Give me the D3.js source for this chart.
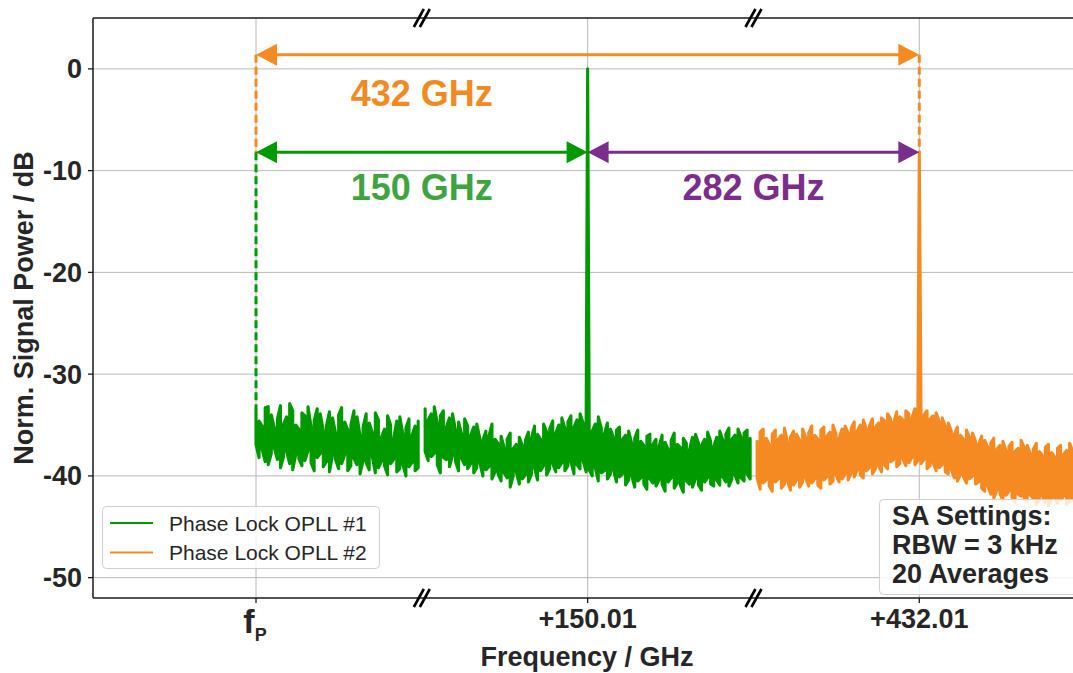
<!DOCTYPE html>
<html>
<head>
<meta charset="utf-8">
<script src="https://cdn.jsdelivr.net/npm/d3@7"></script>
<style>
  html, body { margin: 0; padding: 0; background: #fff; }
  svg { display: block; font-family: "Liberation Sans", Arial, sans-serif; }
</style>
</head>
<body>
<svg id="chart" width="1073" height="673"></svg>
<script>
// ---- data -------------------------------------------------------------
// x is expressed in axis units: 0 = f_P, 1 = +150.01 GHz, 2 = +432.01 GHz (broken axis)
const xTickPos = [0, 1, 2];
const xTickLabels = ["f", "+150.01", "+432.01"];
const yTicks = [0, -10, -20, -30, -40, -50];
const seriesNames = ["Phase Lock OPLL #1", "Phase Lock OPLL #2"];
const seriesColors = ["#009a00", "#f58a22"];

// Spectrum traces are stored as per-bin max / min (peak-detector style)

// noise floor around f_P (OPLL #1)
const green1Range = [0, 0.489];
const green1Hi = [-33.5,-34.6,-35.1,-33.3,-33.2,-34.0,-35.3,-34.4,-33.1,-34.9,-34.2,-32.9,-33.6,-35.0,-35.4,-33.8,-34.1,-33.2,-35.2,-34.6,
  -33.4,-33.9,-35.6,-35.1,-33.7,-34.3,-35.8,-34.0,-33.3,-34.7,-35.5,-35.0,-33.6,-34.2,-36.0,-35.2,-33.9,-34.8,-35.7,-33.8,
  -34.5,-36.2,-35.4,-34.1,-35.0,-36.3,-34.6,-34.2,-35.9,-35.3,-34.4,-36.0,-35.1,-34.6];
const green1Lo = [-36.9,-38.2,-37.4,-38.6,-38.9,-37.8,-37.3,-38.4,-39.2,-38.1,-37.6,-38.8,-39.4,-37.9,-38.3,-39.0,-38.5,-37.5,-38.7,-39.5,
  -38.2,-37.8,-39.1,-38.6,-39.6,-38.0,-38.4,-39.3,-38.8,-37.9,-39.5,-39.0,-38.3,-38.9,-39.8,-38.5,-38.7,-39.4,-38.1,-39.7,
  -39.2,-38.6,-39.0,-39.9,-38.8,-38.4,-39.6,-39.3,-38.9,-40.0,-39.1,-38.7,-39.5,-39.2];

// noise floor around +150.01 GHz (OPLL #1)
const green2Range = [0.51, 1.49];
const green2Hi = [-33.4,-34.5,-33.9,-33.2,-34.8,-34.1,-33.6,
  -35.2,-34.3,-33.9,-35.5,-34.7,-35.9,-34.4,-35.1,
  -36.0,-35.2,-34.9,-36.3,-36.5,-35.6,-36.1,-34.9,-36.4,-36.8,
  -36.1,-37.2,-36.4,-35.8,-37.3,-36.9,-36.2,-37.0,-36.5,-35.7,
  -36.3,-35.1,-35.9,-36.4,-34.9,-35.7,-35.4,-34.6,-35.8,-35.0,
  -34.3,-35.3,-34.7,-34.1,-35.2,-34.5,-33.9,-34.8,-35.0,
  -34.4,-35.6,-34.9,-34.2,-35.3,-35.9,-34.8,-35.4,-36.2,-35.5,
  -35.2,-36.4,-36.0,-35.6,-36.8,-36.3,-35.5,-36.6,-37.0,-36.1,-35.9,-36.9,
  -36.4,-37.1,-36.0,-36.7,-37.4,-36.5,-35.8,-36.9,-37.2,-36.3,-36.8,-37.5,-36.2,-35.9,-36.8,-37.0,-36.4,-35.7,-36.6,-37.1,
  -36.2,-35.6,-36.5,-35.9,-35.3,-36.4,-36.0,-35.4,-36.2,-35.8,-35.5,-36.3];
const green2Lo = [-37.6,-38.5,-38.1,-37.8,-38.9,-39.7,-38.2,
  -38.4,-39.1,-38.0,-38.6,-39.5,-38.3,-38.9,-39.3,
  -38.8,-39.7,-39.2,-38.7,-40.0,-39.4,-39.1,-40.3,-39.6,-39.8,
  -40.5,-39.7,-40.2,-41.1,-40.0,-39.6,-40.8,-40.3,-39.9,-40.6,
  -39.8,-39.2,-40.4,-39.5,-39.0,-39.9,-39.3,-38.8,-39.6,-39.2,
  -38.7,-39.5,-39.0,-38.6,-39.8,-38.9,-39.3,-38.5,-39.6,
  -39.4,-40.0,-39.2,-40.5,-39.7,-39.5,-40.3,-39.8,-39.4,-40.6,
  -40.1,-39.8,-40.9,-40.4,-40.0,-41.1,-40.5,-40.2,-40.8,-41.3,-40.3,-40.7,
  -41.0,-40.4,-40.8,-41.5,-40.6,-40.2,-41.2,-40.7,-40.9,-41.6,-40.5,-40.8,-41.1,-40.3,-40.9,-41.4,-40.6,-40.2,-40.8,-41.0,
  -40.4,-40.9,-40.1,-40.6,-41.0,-40.3,-39.9,-40.7,-40.2,-40.5,-39.8,-40.3];

// noise floor around +432.01 GHz (OPLL #2)
const orangeRange = [1.511, 2.49];
const orangeHi = [-36.6,-35.7,-35.4,-36.3,-36.9,-35.9,-35.5,-36.4,-36.0,-35.3,-36.7,-36.2,-35.6,-35.9,-36.5,
  -35.4,-36.2,-35.8,-35.1,-36.0,-36.4,-35.5,-35.2,-36.1,-35.7,-35.0,-35.9,-36.3,-35.4,-35.1,-35.8,
  -35.3,-34.7,-35.6,-35.0,-34.5,-35.4,-35.1,-34.4,-35.2,-34.8,-34.3,
  -34.6,-33.9,-34.4,-34.8,-33.7,-34.2,-34.5,-33.6,-33.9,-34.3,-33.4,-33.0,
  -33.2,-34.0,-33.6,-34.4,-34.1,-33.8,-34.7,-34.3,-35.1,
  -34.8,-35.6,-35.9,-35.2,-36.0,-36.4,-35.5,-36.2,-35.8,-36.6,-36.9,-36.1,
  -36.5,-37.2,-36.8,-36.3,-37.4,-37.0,-36.6,-37.5,-37.1,-36.7,-37.6,-37.3,-36.5,-37.2,
  -37.0,-37.8,-37.4,-36.8,-37.6,-38.0,-37.2,-36.9,-37.7,-38.1,-37.3,-37.0,-37.9,-37.5,-36.8,-37.6,-38.2,-37.4,-37.1];
const orangeLo = [-40.2,-41.3,-40.7,-40.4,-41.0,-41.5,-40.6,-40.3,-41.2,-40.8,-40.5,-41.4,-40.9,-40.4,-41.1,
  -40.6,-40.2,-41.0,-40.7,-40.3,-40.9,-41.2,-40.4,-40.1,-40.8,-40.5,-39.9,-40.6,-40.3,-39.8,-40.4,
  -39.7,-40.1,-39.4,-39.9,-40.2,-39.5,-39.2,-39.8,-39.3,-39.0,-39.6,
  -38.9,-39.3,-38.6,-38.4,-39.1,-38.8,-38.3,-39.0,-38.7,-38.2,-38.9,-38.5,
  -38.8,-38.4,-39.3,-39.0,-38.7,-39.5,-39.2,-38.9,-39.6,
  -39.8,-39.4,-40.2,-40.5,-39.9,-40.1,-40.7,-40.3,-40.0,-40.8,-40.6,-41.2,
  -41.5,-41.0,-41.8,-42.2,-41.4,-41.7,-42.4,-41.9,-41.5,-42.1,-42.6,-41.8,-42.0,-42.3,
  -42.5,-41.9,-42.2,-42.8,-42.4,-42.0,-42.6,-42.9,-42.3,-42.1,-42.7,-42.4,-42.0,-42.8,-42.5,-42.2,-42.9,-42.6,-42.3];

// beat-note carriers
const carrierPos = [1, 2];
const carrierDb = [0, -8.2];

// frequency spacing annotations
const spanFrom = [0, 0, 1];
const spanTo = [2, 1, 2];
const spanLevel = [1.4, -8.2, -8.2];
const spanColors = ["#f58a22", "#009a00", "#7b2d8b"];
const spanLabels = ["432 GHz", "150 GHz", "282 GHz"];
const spanLabelColors = ["#f28a22", "#3fa33f", "#7b2d8b"];
const spanLabelPos = [0.5, 0.5, 1.5];
const spanLabelDb = [-3.6, -12.9, -12.9];

const breakPos = [0.5, 1.5];
const settingsLines = ["SA Settings:", "RBW = 3 kHz", "20 Averages"];

// ---- layout -----------------------------------------------------------
const svg = d3.select("#chart");
const mLeft = 93, mRight = 1081, mTop = 18, mBottom = 598;

const x = d3.scaleLinear().domain([-0.4915, 2.4876]).range([mLeft, mRight]);
const y = d3.scaleLinear().domain([-52, 5]).range([mBottom, mTop]);

svg.append("defs").append("clipPath").attr("id", "plotclip")
  .append("rect").attr("x", mLeft).attr("y", mTop)
  .attr("width", mRight - mLeft).attr("height", mBottom - mTop);

// grid
const grid = svg.append("g").attr("stroke", "#b8b8b8").attr("stroke-width", 1);
grid.selectAll("line.gy").data(yTicks).join("line")
  .attr("x1", mLeft).attr("x2", mRight)
  .attr("y1", d => y(d)).attr("y2", d => y(d));
grid.selectAll("line.gx").data(xTickPos).join("line")
  .attr("x1", d => x(d)).attr("x2", d => x(d))
  .attr("y1", mTop).attr("y2", mBottom);

// spectrum traces: each bin is visited max->min or min->max, alternately
function segment(range, hi, lo) {
  const n = hi.length, pts = [];
  hi.forEach((h, i) => {
    const xv = range[0] + (range[1] - range[0]) * i / (n - 1);
    if (i % 2 === 0) { pts.push({ x: xv, y: h }); pts.push({ x: xv, y: lo[i] }); }
    else { pts.push({ x: xv, y: lo[i] }); pts.push({ x: xv, y: h }); }
  });
  return pts;
}
function withCarrier(pts, pos, db) {
  const k = pts.findIndex(p => p.x > pos);
  return pts.slice(0, k).concat([{ x: pos, y: db }], pts.slice(k));
}
const g1 = segment(green1Range, green1Hi, green1Lo);
const g2 = withCarrier(segment(green2Range, green2Hi, green2Lo), carrierPos[0], carrierDb[0]);
const o1 = withCarrier(segment(orangeRange, orangeHi, orangeLo), carrierPos[1], carrierDb[1]);

const line = d3.line().x(d => x(d.x)).y(d => y(d.y));
const traces = svg.append("g").attr("clip-path", "url(#plotclip)")
  .attr("fill", "none").attr("stroke-width", 3.1)
  .attr("stroke-linejoin", "round").attr("stroke-linecap", "round");
traces.append("path").datum(g1).attr("stroke", seriesColors[0]).attr("d", line);
traces.append("path").datum(g2).attr("stroke", seriesColors[0]).attr("d", line);
traces.append("path").datum(o1).attr("stroke", seriesColors[1]).attr("d", line);

// dashed guides from arrows down to the traces
const guides = svg.append("g").attr("stroke-width", 3).attr("stroke-dasharray", "8,4").attr("fill", "none");
guides.append("line").attr("stroke", spanColors[0])
  .attr("x1", x(0)).attr("x2", x(0)).attr("y1", y(spanLevel[0])).attr("y2", y(spanLevel[1]));
guides.append("line").attr("stroke", spanColors[0])
  .attr("x1", x(2)).attr("x2", x(2)).attr("y1", y(spanLevel[0])).attr("y2", y(carrierDb[1]));
guides.append("line").attr("stroke", spanColors[1])
  .attr("x1", x(0)).attr("x2", x(0)).attr("y1", y(spanLevel[1])).attr("y2", y(green1Hi[0]));

// double-headed arrows
const headL = 21, headW = 11;
spanFrom.forEach((f, i) => {
  const x0 = x(f), x1 = x(spanTo[i]), yy = y(spanLevel[i]);
  const g = svg.append("g");
  g.append("line").attr("x1", x0 + headL - 2).attr("x2", x1 - headL + 2)
    .attr("y1", yy).attr("y2", yy)
    .attr("stroke", spanColors[i]).attr("stroke-width", 3);
  g.append("path").attr("fill", spanColors[i])
    .attr("d", `M${x0},${yy}L${x0 + headL},${yy - headW}L${x0 + headL},${yy + headW}Z`);
  g.append("path").attr("fill", spanColors[i])
    .attr("d", `M${x1},${yy}L${x1 - headL},${yy - headW}L${x1 - headL},${yy + headW}Z`);
  svg.append("text").attr("x", x(spanLabelPos[i])).attr("y", y(spanLabelDb[i]))
    .attr("text-anchor", "middle").attr("font-weight", "bold").attr("font-size", 36)
    .attr("fill", spanLabelColors[i]).text(spanLabels[i]);
});

// spines and ticks
const axisColor = "#1a1a1a";
svg.append("line").attr("x1", mLeft).attr("x2", mRight).attr("y1", mTop).attr("y2", mTop)
  .attr("stroke", axisColor).attr("stroke-width", 1.5);
svg.append("line").attr("x1", mLeft).attr("x2", mRight).attr("y1", mBottom).attr("y2", mBottom)
  .attr("stroke", axisColor).attr("stroke-width", 1.5);
svg.append("line").attr("x1", mLeft).attr("x2", mLeft).attr("y1", mTop).attr("y2", mBottom)
  .attr("stroke", axisColor).attr("stroke-width", 1.5);

svg.selectAll("line.ytick").data(yTicks).join("line")
  .attr("x1", mLeft - 5).attr("x2", mLeft).attr("y1", d => y(d)).attr("y2", d => y(d))
  .attr("stroke", axisColor).attr("stroke-width", 1.3);
svg.selectAll("line.xtick").data(xTickPos).join("line")
  .attr("x1", d => x(d)).attr("x2", d => x(d)).attr("y1", mBottom).attr("y2", mBottom + 5)
  .attr("stroke", axisColor).attr("stroke-width", 1.3);

svg.selectAll("text.ylab").data(yTicks).join("text")
  .attr("x", mLeft - 11).attr("y", d => y(d) + 9.5)
  .attr("text-anchor", "end").attr("font-weight", "bold").attr("font-size", 27)
  .attr("fill", "#262626").text(d => String(d));

xTickPos.forEach((p, i) => {
  if (i === 0) {
    const t = svg.append("text").attr("x", x(p) - 1).attr("y", mBottom + 35)
      .attr("text-anchor", "middle").attr("font-weight", "bold").attr("fill", "#262626");
    t.append("tspan").attr("font-size", 34).text(xTickLabels[i]);
    t.append("tspan").attr("font-size", 18).attr("dy", 8).text("P");
  } else {
    svg.append("text").attr("x", x(p)).attr("y", mBottom + 30)
      .attr("text-anchor", "middle").attr("font-weight", "bold").attr("font-size", 27)
      .attr("fill", "#262626").text(xTickLabels[i]);
  }
});

// axis-break marks on top and bottom spines
[mTop, mBottom].forEach(yy => {
  breakPos.forEach(b => {
    const cx = x(b);
    [-3, 3].forEach(off => {
      svg.append("line")
        .attr("x1", cx + off - 5).attr("y1", yy + 9)
        .attr("x2", cx + off + 5).attr("y2", yy - 9)
        .attr("stroke", "#000").attr("stroke-width", 2.6);
    });
  });
});

// axis titles
svg.append("text").attr("x", (mLeft + mRight) / 2).attr("y", 666)
  .attr("text-anchor", "middle").attr("font-weight", "bold").attr("font-size", 27)
  .attr("fill", "#262626").text("Frequency / GHz");
svg.append("text").attr("transform", `translate(33,${(mTop + mBottom) / 2}) rotate(-90)`)
  .attr("text-anchor", "middle").attr("font-weight", "bold").attr("font-size", 27)
  .attr("fill", "#262626").text("Norm. Signal Power / dB");

// legend
const lg = svg.append("g");
lg.append("rect").attr("x", 102.5).attr("y", 506.5).attr("width", 277).attr("height", 62).attr("rx", 4)
  .attr("fill", "#fff").attr("fill-opacity", 0.8).attr("stroke", "#d0d0d0");
seriesNames.forEach((s, i) => {
  const yy = 523 + i * 29.5;
  lg.append("line").attr("x1", 110).attr("x2", 153).attr("y1", yy).attr("y2", yy)
    .attr("stroke", seriesColors[i]).attr("stroke-width", 2.2);
  lg.append("text").attr("x", 169).attr("y", yy + 7.5).attr("font-size", 21)
    .attr("fill", "#262626").text(s);
});

// analyzer settings box
const sb = svg.append("g");
sb.append("rect").attr("x", 879.5).attr("y", 499.5).attr("width", 210).attr("height", 95).attr("rx", 4)
  .attr("fill", "#fff").attr("fill-opacity", 0.8).attr("stroke", "#d0d0d0");
settingsLines.forEach((t, i) => {
  sb.append("text").attr("x", 892).attr("y", 525 + i * 29).attr("font-size", 27)
    .attr("font-weight", "bold").attr("fill", "#262626").text(t);
});
</script>
</body>
</html>
